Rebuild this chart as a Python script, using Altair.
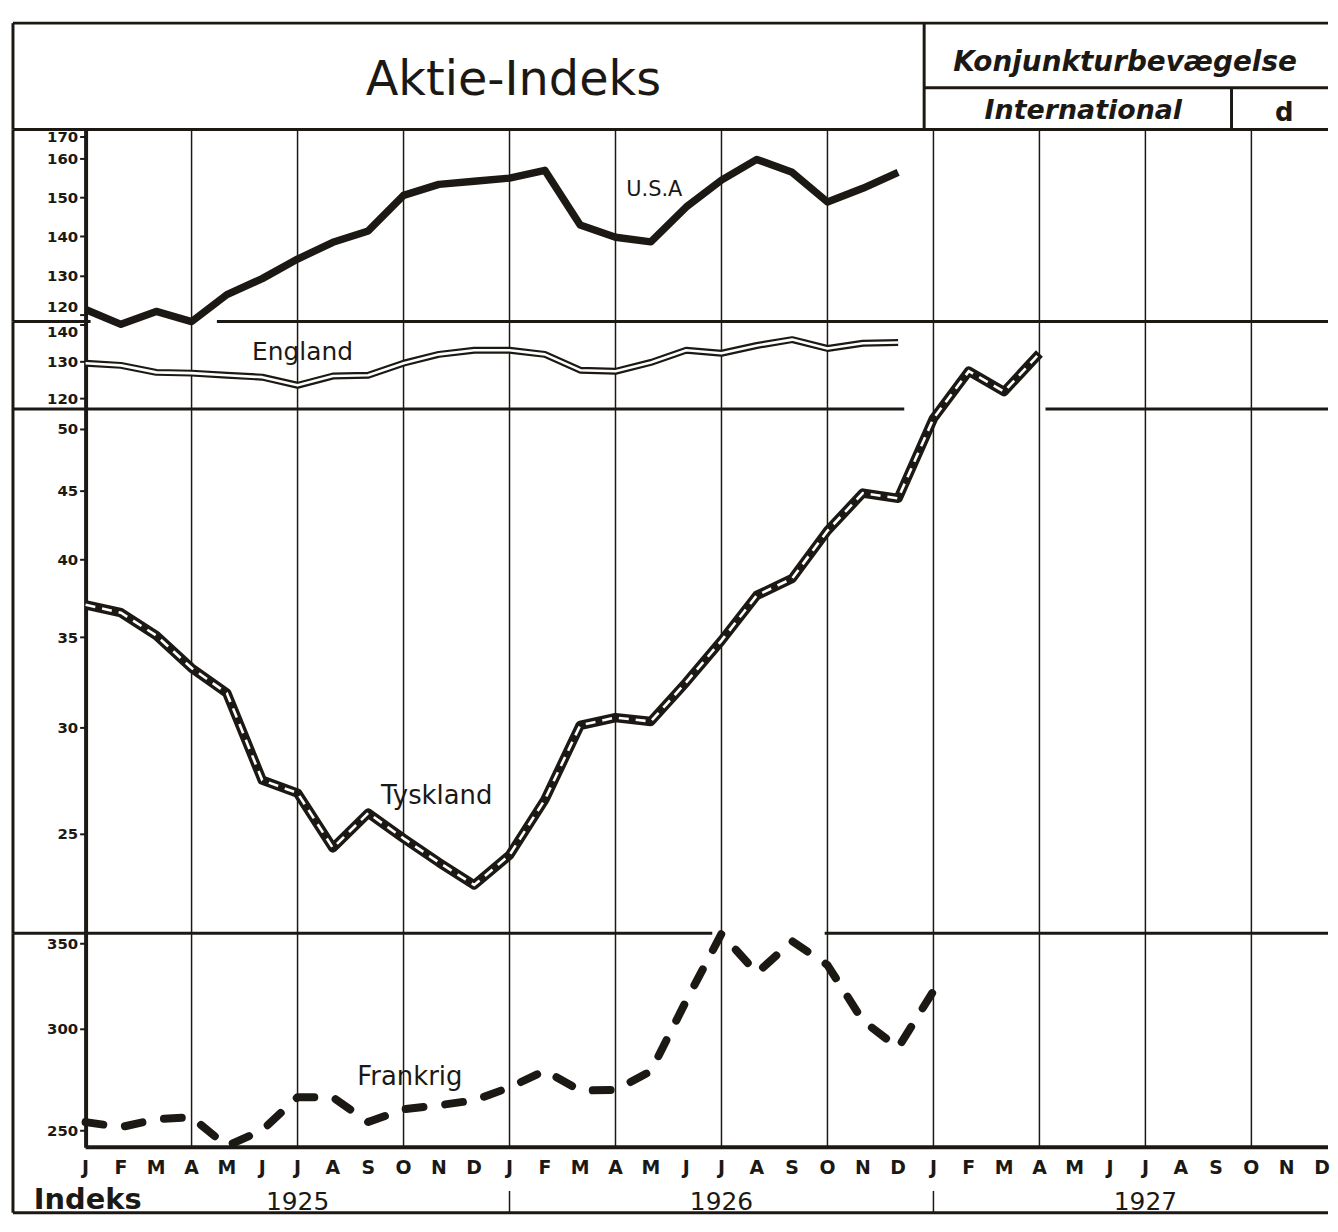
import altair as alt
import pandas as pd

# ---------------- data ----------------
month_letters = ["J", "F", "M", "A", "M", "J", "J", "A", "S", "O", "N", "D"]
years = ["1925", "1926", "1927"]
year_pos = [6, 18, 30]          # month index where each year label sits
year_breaks = [12, 24]          # Jan 1926, Jan 1927
grid_months = list(range(3, 36, 3))

usa_months = list(range(24))    # 0 = Jan 1925
usa = [121.3, 117.5, 120.8, 118.2, 125.1, 129.2, 134.2, 138.5, 141.4, 150.5, 153.3, 154.1,
       154.9, 156.9, 142.9, 139.8, 138.6, 147.5, 154.4, 159.7, 156.4, 148.8, 152.3, 156.4]

england_months = list(range(24))
england = [129.5, 128.9, 127.0, 126.8, 126.2, 125.7, 123.5, 126.0, 126.2, 129.5, 131.9, 133.0,
           133.0, 131.9, 127.6, 127.3, 129.7, 133.0, 132.2, 134.3, 135.9, 133.5, 134.9, 135.1]

tyskland_months = list(range(28))
tyskland = [37.0, 36.5, 35.1, 33.2, 31.8, 27.4, 26.8, 24.4, 25.9, 24.8, 23.8, 22.9,
            24.1, 26.5, 30.1, 30.5, 30.3, 32.4, 34.8, 37.6, 38.7, 42.0, 44.8, 44.4,
            50.9, 55.2, 53.3, 56.9]

frankrig_months = list(range(25))
frankrig = [253.7, 251.4, 255.0, 255.9, 243.0, 250.0, 265.3, 265.3, 253.7, 259.6, 261.5, 263.8,
            270.0, 278.3, 268.5, 268.8, 278.0, 315.5, 356.0, 331.7, 351.3, 336.5, 304.5, 290.0,
            321.2]

usa_ticks = [120, 130, 140, 150, 160, 165.6]
england_ticks = [120, 130, 140]
tyskland_ticks = [25, 30, 35, 40, 45, 50]
frankrig_ticks = [250, 300, 350]

# ---------------- styling / layout ----------------
INK = "#1c1915"
FONT = "DejaVu Sans"
W = 1243
XDOM = [0, 35]
LEFT = -73
RIGHT = W + 6
H_HEAD, H_USA, H_ENG, H_TYS, H_FRA = 107, 193, 88, 527, 215

xscale = alt.Scale(domain=XDOM, nice=False, zero=False)


def dummy():
    return pd.DataFrame({"d": [0]})


def hrule(y, x1, x2, w=3):
    return alt.Chart(dummy()).mark_rule(color=INK, strokeWidth=w).encode(
        x=alt.value(x1), x2=alt.value(x2), y=alt.value(y))


def vrule(x, y1, y2, w=3):
    return alt.Chart(dummy()).mark_rule(color=INK, strokeWidth=w).encode(
        x=alt.value(x), y=alt.value(y1), y2=alt.value(y2))


def text_at(txt, x, y, size, weight="normal", style="normal", align="center", baseline="middle"):
    return alt.Chart(dummy()).mark_text(
        text=txt, font=FONT, fontSize=size, fontWeight=weight, fontStyle=style,
        color=INK, align=align, baseline=baseline).encode(x=alt.value(x), y=alt.value(y))


def grid(h):
    return alt.Chart(pd.DataFrame({"m": grid_months})).mark_rule(
        color=INK, strokeWidth=1.5).encode(
        x=alt.X("m:Q", scale=xscale, axis=None), y=alt.value(0), y2=alt.value(h))


def yaxis(values, expr=None, baseline=None):
    kw = dict(values=values, title=None, grid=False, domain=True, domainColor=INK,
              domainWidth=4, ticks=True, tickColor=INK, tickWidth=2, tickSize=6,
              labelFont=FONT, labelFontSize=15, labelFontWeight="bold", labelColor=INK,
              labelPadding=2, labelOverlap=False, format="d")
    if expr:
        kw["labelExpr"] = expr
    if baseline is not None:
        kw["labelBaseline"] = baseline
    return alt.Axis(**kw)


def panel_df(months, values, label, lm, lv):
    df = pd.DataFrame({"m": months, "v": values, "kind": "line", "label": ""})
    lab = pd.DataFrame({"m": [lm], "v": [lv], "kind": ["label"], "label": [label]})
    return pd.concat([df, lab], ignore_index=True)


def base(df, yscale, yax):
    return alt.Chart(df).encode(
        x=alt.X("m:Q", scale=xscale, axis=None),
        y=alt.Y("v:Q", scale=yscale, axis=yax))


def lines(b):
    return b.transform_filter("datum.kind == 'line'")


def label(b, size):
    return b.transform_filter("datum.kind == 'label'").mark_text(
        font=FONT, fontSize=size, color=INK, align="center", baseline="middle"
    ).encode(text="label:N")


# ---------------- header ----------------
header = alt.layer(
    hrule(0, LEFT, RIGHT),
    hrule(H_HEAD, LEFT, RIGHT),
    vrule(LEFT, 0, H_HEAD),
    vrule(843, 0, H_HEAD),
    hrule(65, 843, RIGHT),
    vrule(1152, 65, H_HEAD),
    text_at("Aktie-Indeks", 430, 58, 48),
    text_at("Konjunkturbevægelse", 1045, 40, 28, weight="bold", style="italic"),
    text_at("International", 1003, 88, 27, weight="bold", style="italic"),
    text_at("d", 1205, 90, 26, weight="bold"),
).properties(width=W, height=H_HEAD)

# ---------------- USA ----------------
usa_b = base(panel_df(usa_months, usa, "U.S.A", 16.1, 151.8),
             alt.Scale(domain=[118.22, 167.33], nice=False, zero=False),
             yaxis(usa_ticks, "datum.value > 163 ? '170' : datum.label",
                   {"condition": {"test": "datum.value < 125", "value": "bottom"},
                    "value": "middle"}))
usa_panel = alt.layer(
    grid(H_USA),
    vrule(LEFT, 0, H_USA),
    lines(usa_b).mark_line(color=INK, strokeWidth=7.5, strokeJoin="round"),
    label(usa_b, 21),
).properties(width=W, height=H_USA)

# ---------------- England ----------------
eng_b = base(panel_df(england_months, england, "England", 6.14, 132.4),
             alt.Scale(domain=[117.03, 140.81], nice=False, zero=False),
             yaxis(england_ticks, None,
                   {"condition": {"test": "datum.value > 138", "value": "top"},
                    "value": "middle"}))
eng_panel = alt.layer(
    grid(H_ENG),
    vrule(LEFT, 0, H_ENG),
    hrule(0, LEFT, 5),
    hrule(0, 132, RIGHT),
    lines(eng_b).mark_line(color=INK, strokeWidth=7, strokeJoin="round"),
    lines(eng_b).mark_line(color="white", strokeWidth=2.6, strokeJoin="round"),
    label(eng_b, 25),
).properties(width=W, height=H_ENG)

# ---------------- Tyskland ----------------
tys_b = base(panel_df(tyskland_months, tyskland, "Tyskland", 9.94, 26.67),
             alt.Scale(type="log", domain=[21.08, 51.73], nice=False),
             yaxis(tyskland_ticks))
tys_panel = alt.layer(
    grid(H_TYS),
    vrule(LEFT, 0, H_TYS),
    hrule(0, LEFT, 823),
    hrule(0, 965, RIGHT),
    lines(tys_b).mark_line(color=INK, strokeWidth=9.5, strokeJoin="round"),
    lines(tys_b).mark_line(color="white", strokeWidth=2.6, strokeDash=[10, 7]),
    label(tys_b, 26),
).properties(width=W, height=H_TYS)

# ---------------- Frankrig + footer ----------------
fra_b = base(panel_df(frankrig_months, frankrig, "Frankrig", 9.18, 274.9),
             alt.Scale(type="log", domain=[242.5, 356.3], nice=False),
             yaxis(frankrig_ticks))

months_df = pd.DataFrame({"m": list(range(36)),
                          "letter": [month_letters[i % 12] for i in range(36)]})
years_df = pd.DataFrame({"m": year_pos, "year": years})
breaks_df = pd.DataFrame({"m": year_breaks})

fra_panel = alt.layer(
    grid(H_FRA),
    vrule(LEFT, 0, H_FRA + 66),
    hrule(0, LEFT, 630),
    hrule(0, 743, RIGHT),
    hrule(H_FRA, 0, RIGHT, w=4),
    hrule(H_FRA + 66, LEFT, RIGHT),
    lines(fra_b).mark_line(color=INK, strokeWidth=8, strokeDash=[18, 22],
                           strokeCap="round", strokeJoin="round"),
    label(fra_b, 26),
    alt.Chart(months_df).mark_text(font=FONT, fontSize=19, fontWeight="bold", color=INK,
                                   baseline="middle").encode(
        x=alt.X("m:Q", scale=xscale, axis=None), y=alt.value(H_FRA + 21),
        text="letter:N"),
    alt.Chart(years_df).mark_text(font=FONT, fontSize=25, color=INK,
                                  baseline="middle").encode(
        x=alt.X("m:Q", scale=xscale, axis=None), y=alt.value(H_FRA + 55), text="year:N"),
    alt.Chart(breaks_df).mark_rule(color=INK, strokeWidth=1.5).encode(
        x=alt.X("m:Q", scale=xscale, axis=None), y=alt.value(H_FRA + 44),
        y2=alt.value(H_FRA + 66)),
    text_at("Indeks", -52, H_FRA + 62, 29, weight="bold", align="left",
            baseline="alphabetic"),
).properties(width=W, height=H_FRA)

chart = alt.vconcat(
    header, usa_panel, eng_panel, tys_panel, fra_panel, spacing=0, bounds="flush"
).properties(
    padding={"top": 10, "left": 3, "right": 0, "bottom": 0},
    background="white",
).configure_view(stroke=None)

chart.save("out.html", embed_options={"renderer": "svg", "actions": False})
